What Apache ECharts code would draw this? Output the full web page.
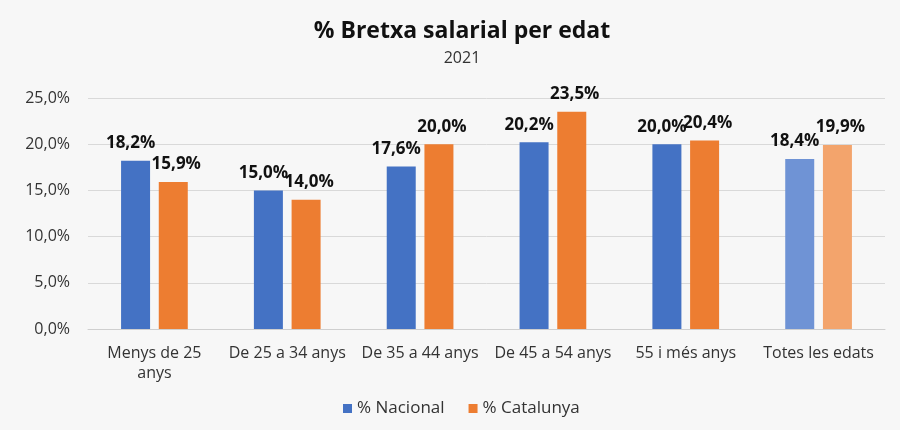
<!DOCTYPE html>
<html>
<head>
<meta charset="utf-8">
<script src="https://cdn.jsdelivr.net/npm/echarts@6/dist/echarts.min.js"></script>
<style>
  html, body { margin: 0; padding: 0; background: #f7f7f7; }
  #chart { width: 900px; height: 430px; }
</style>
</head>
<body>
<div id="chart"></div>
<script>
// Wage gap by age group, 2021
const categories = ['Menys de 25\nanys', 'De 25 a 34 anys', 'De 35 a 44 anys', 'De 45 a 54 anys', '55 i més anys', 'Totes les edats'];
const nacional = [18.2, 15.0, 17.6, 20.2, 20.0, 18.4];
const catalunya = [15.9, 14.0, 20.0, 23.5, 20.4, 19.9];
const yTicks = [0, 5, 10, 15, 20, 25];

const FONT = '"Open Sans", "Noto Sans", sans-serif';
const fmt = v => v.toFixed(1).replace('.', ',') + '%';

// The "all ages" total is drawn in a lighter shade
function toItems(values, color, lightColor) {
  return values.map((v, i) => ({
    value: v,
    itemStyle: { color: i === values.length - 1 ? lightColor : color }
  }));
}

// Value labels sit above each bar, nudged apart so neighbours overlap less
function valueLabel(dx) {
  return {
    show: true, position: 'top', distance: 9, offset: [dx, 0],
    fontFamily: FONT, fontSize: 17, fontWeight: 'bold', color: '#111',
    formatter: p => fmt(p.value)
  };
}

const chart = echarts.init(document.getElementById('chart'));
chart.setOption({
  backgroundColor: '#f7f7f7',
  animation: false,
  title: [
    {
      text: '% Bretxa salarial per edat',
      left: 457,
      top: 15,
      textAlign: 'center',
      textStyle: { fontFamily: FONT, fontSize: 23, fontWeight: 'bold', color: '#111' }
    },
    {
      text: '2021',
      left: 457,
      top: 45,
      textAlign: 'center',
      textStyle: { fontFamily: FONT, fontSize: 16, fontWeight: 'normal', color: '#333' }
    }
  ],
  legend: {
    bottom: 8,
    left: 338,
    itemWidth: 9,
    itemHeight: 9,
    itemGap: 24,
    icon: 'rect',
    textStyle: { fontFamily: FONT, fontSize: 17, color: '#333' },
    data: [
      { name: '% Nacional', itemStyle: { color: '#4472C4' } },
      { name: '% Catalunya', itemStyle: { color: '#ED7D31' } }
    ]
  },
  grid: { left: 88, right: 15, top: 98, bottom: 101 },
  xAxis: {
    type: 'category',
    data: categories,
    axisTick: { show: false },
    axisLine: { lineStyle: { color: '#cfcfcf' } },
    axisLabel: { fontFamily: FONT, fontSize: 16, color: '#333', margin: 14, lineHeight: 20, interval: 0 }
  },
  yAxis: {
    type: 'value',
    min: yTicks[0],
    max: yTicks[yTicks.length - 1],
    interval: 5,
    axisLine: { show: false },
    axisTick: { show: false },
    splitLine: { lineStyle: { color: '#d9d9d9' } },
    axisLabel: { fontFamily: FONT, fontSize: 16, color: '#333', margin: 18, formatter: v => fmt(v) }
  },
  series: [
    {
      name: '% Nacional',
      type: 'bar',
      barWidth: 29,
      barGap: '30%',
      itemStyle: { color: '#4472C4' },
      data: toItems(nacional, '#4472C4', '#6F93D5'),
      label: valueLabel(-5)
    },
    {
      name: '% Catalunya',
      type: 'bar',
      barWidth: 29,
      itemStyle: { color: '#ED7D31' },
      data: toItems(catalunya, '#ED7D31', '#F3A46C'),
      label: valueLabel(3)
    }
  ]
});
</script>
</body>
</html>
